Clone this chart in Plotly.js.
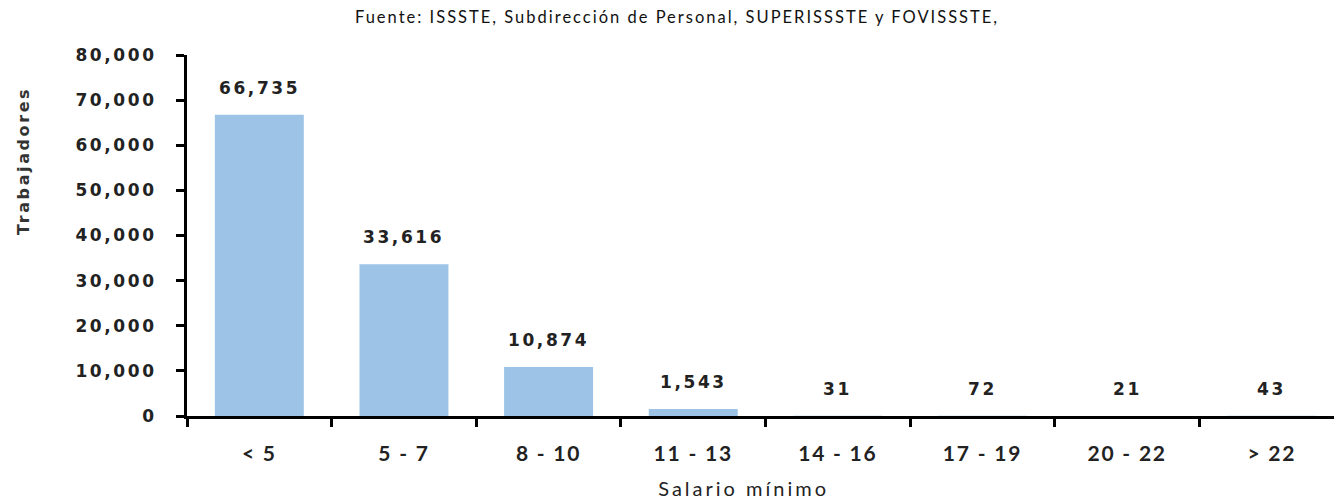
<!DOCTYPE html>
<html>
<head>
<meta charset="utf-8">
<script src="https://cdn.plot.ly/plotly-3.0.1.min.js"></script>
<style>
  html, body { margin: 0; padding: 0; background: #fff; }
  #chart { width: 1334px; height: 501px; }
  .gtitle { letter-spacing: 2px; }
  .ytick text { letter-spacing: 2.6px; }
  .xtick text { letter-spacing: 1.8px; }
  .annotation-text { letter-spacing: 2.6px; }
</style>
</head>
<body>
<div id="chart"></div>
<script>
const categories = ["< 5", "5 - 7", "8 - 10", "11 - 13", "14 - 16", "17 - 19", "20 - 22", "> 22"];
const trabajadores = [66735, 33616, 10874, 1543, 31, 72, 21, 43];
const yTickVals = [0, 10000, 20000, 30000, 40000, 50000, 60000, 70000, 80000];
const titleText = "Fuente: ISSSTE, Subdirección de Personal, SUPERISSSTE y FOVISSSTE,";
const yTitleText = "Trabajadores";
const xTitleText = "Salario mínimo";

const barColor = "#9DC3E6";
const labelFont = { family: "DejaVu Sans", size: 17, color: "#222", weight: "bold" };

const dataLabels = categories.map((c, i) => ({
  x: c, y: trabajadores[i], xref: "x", yref: "y",
  text: trabajadores[i].toLocaleString("en-US"),
  showarrow: false, yshift: 27, yanchor: "middle", xanchor: "center",
  font: labelFont
}));

const yTitleAnn = {
  xref: "paper", yref: "paper", x: -0.1425, y: 0.705, xanchor: "center", yanchor: "middle",
  text: yTitleText, textangle: -90, showarrow: false,
  font: { family: "DejaVu Sans", size: 16, color: "#333", weight: "bold" }
};

const xTitleAnn = {
  xref: "paper", yref: "paper", x: 0.485, y: -0.2, xanchor: "center", yanchor: "middle",
  text: xTitleText, showarrow: false,
  font: { family: "Lato", size: 20, color: "#222" }
};

const trace = {
  type: "bar",
  x: categories,
  y: trabajadores,
  marker: { color: barColor, line: { width: 0 } },
  width: 0.615,
  hoverinfo: "x+y"
};

const layout = {
  width: 1334, height: 501,
  margin: { l: 187, r: 0, t: 55, b: 85, pad: 0 },
  paper_bgcolor: "#fff", plot_bgcolor: "#fff",
  showlegend: false,
  title: {
    text: titleText, xref: "container", yref: "container",
    x: 0.5075, y: 0.966, xanchor: "center", yanchor: "middle",
    font: { family: "Lato", size: 16.5, color: "#111" }
  },
  xaxis: {
    type: "category",
    range: [-0.5, 7.43],
    showline: true, linecolor: "#000", linewidth: 3,
    ticks: "outside", tickson: "boundaries", ticklen: 8, tickwidth: 3, tickcolor: "#000",
    ticklabelstandoff: 17,
    tickfont: { family: "Lato", size: 21, color: "#222", weight: "bold" },
    showgrid: false, zeroline: false
  },
  yaxis: {
    range: [0, 80000],
    tickvals: yTickVals,
    tickformat: ",d",
    showline: true, linecolor: "#000", linewidth: 3,
    ticks: "outside", ticklen: 8, tickwidth: 3, tickcolor: "#000",
    ticklabelstandoff: 16,
    tickfont: { family: "DejaVu Sans", size: 17, color: "#222", weight: "bold" },
    showgrid: false, zeroline: false
  },
  annotations: dataLabels.concat([yTitleAnn, xTitleAnn])
};

Plotly.newPlot("chart", [trace], layout, { displayModeBar: false, staticPlot: true });
</script>
<style>
  .annotation:last-child .annotation-text { letter-spacing: 3px; }
</style>
</body>
</html>
